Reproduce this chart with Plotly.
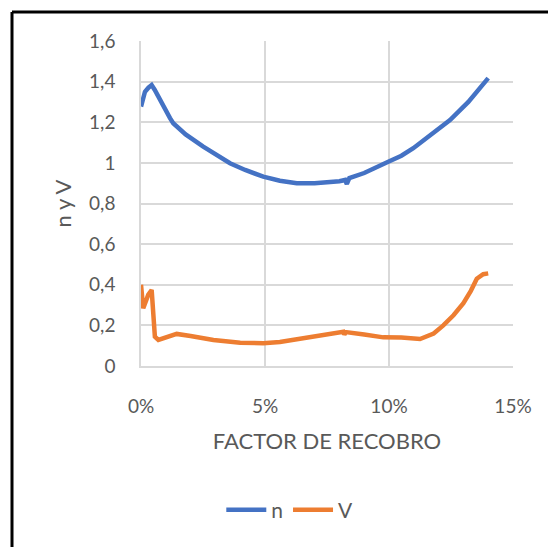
import plotly.graph_objects as go

# Factor de recobro (fraction) and n
n_x = [0.0, 0.0016, 0.0030, 0.0043, 0.0055, 0.0080, 0.0117, 0.0130, 0.0180, 0.0251, 0.0300,
       0.0359, 0.0420, 0.0493, 0.0560, 0.0628, 0.0700, 0.0762, 0.0800, 0.0823, 0.0830, 0.0840,
       0.0900, 0.0997, 0.1050, 0.1098, 0.1170, 0.1246, 0.1320, 0.1400]
n_y = [1.277, 1.350, 1.370, 1.383, 1.360, 1.300, 1.220, 1.195, 1.140, 1.080, 1.040,
       0.998, 0.965, 0.932, 0.912, 0.900, 0.900, 0.903, 0.910, 0.916, 0.896, 0.925,
       0.950, 1.006, 1.035, 1.072, 1.140, 1.211, 1.300, 1.417]

# Factor de recobro (fraction) and V
v_x = [0.0, 0.0009, 0.0020, 0.0029, 0.0043, 0.0050, 0.0056, 0.0070, 0.0100, 0.0144, 0.0200,
       0.0292, 0.0400, 0.0493, 0.0560, 0.0654, 0.0740, 0.0816, 0.0820, 0.0826, 0.0900, 0.0977,
       0.1050, 0.1125, 0.1180, 0.1219, 0.1260, 0.1300, 0.1330, 0.1354, 0.1380, 0.1400]
v_y = [0.400, 0.284, 0.320, 0.350, 0.374, 0.276, 0.144, 0.128, 0.138, 0.158, 0.148,
       0.128, 0.115, 0.112, 0.118, 0.136, 0.155, 0.169, 0.155, 0.167, 0.155, 0.141,
       0.140, 0.133, 0.160, 0.200, 0.250, 0.309, 0.370, 0.430, 0.452, 0.456]

fig = go.Figure()
fig.add_trace(go.Scatter(x=n_x, y=n_y, mode="lines", name="n",
                         line=dict(color="#4472C4", width=4.5)))
fig.add_trace(go.Scatter(x=v_x, y=v_y, mode="lines", name="V",
                         line=dict(color="#ED7D31", width=4.5)))

grid = "#d9d9d9"
txt = "#595959"
fig.update_layout(
    width=548, height=539,
    margin=dict(l=133, r=43, t=33, b=181),
    paper_bgcolor="white", plot_bgcolor="white",
    separators=", ",
    font=dict(family="Lato, Open Sans, sans-serif", size=19, color=txt),
    xaxis=dict(range=[0, 0.15], dtick=0.05, tick0=0, tickformat=".0%",
               showgrid=True, gridcolor=grid, gridwidth=1.5,
               zeroline=False, showline=True, linecolor=grid, linewidth=1.5,
               ticks="", ticklabelstandoff=22,
               title=dict(text="FACTOR DE RECOBRO", standoff=18,
                          font=dict(size=22, color=txt))),
    yaxis=dict(range=[0, 1.6], dtick=0.2, tick0=0,
               showgrid=True, gridcolor=grid, gridwidth=1.5,
               zeroline=False, showline=True, linecolor=grid, linewidth=1.5,
               ticks="", ticklabelstandoff=20,
               title=dict(text="n y V", standoff=11,
                          font=dict(size=22, color=txt))),
    legend=dict(orientation="h", x=0.40, xanchor="center", y=-0.443, yanchor="middle",
                font=dict(size=21, color=txt), itemwidth=40),
    showlegend=True,
)
# outer frame (top and left edges visible)
fig.add_shape(type="line", xref="paper", yref="paper",
              x0=(12 - 141) / 372, x1=(600 - 141) / 372,
              y0=(366 - 12) / 325, y1=(366 - 12) / 325,
              line=dict(color="black", width=3))
fig.add_shape(type="line", xref="paper", yref="paper",
              x0=(12 - 141) / 372, x1=(12 - 141) / 372,
              y0=(366 - 12) / 325, y1=(366 - 600) / 325,
              line=dict(color="black", width=3))

fig.write_html("out.html")
